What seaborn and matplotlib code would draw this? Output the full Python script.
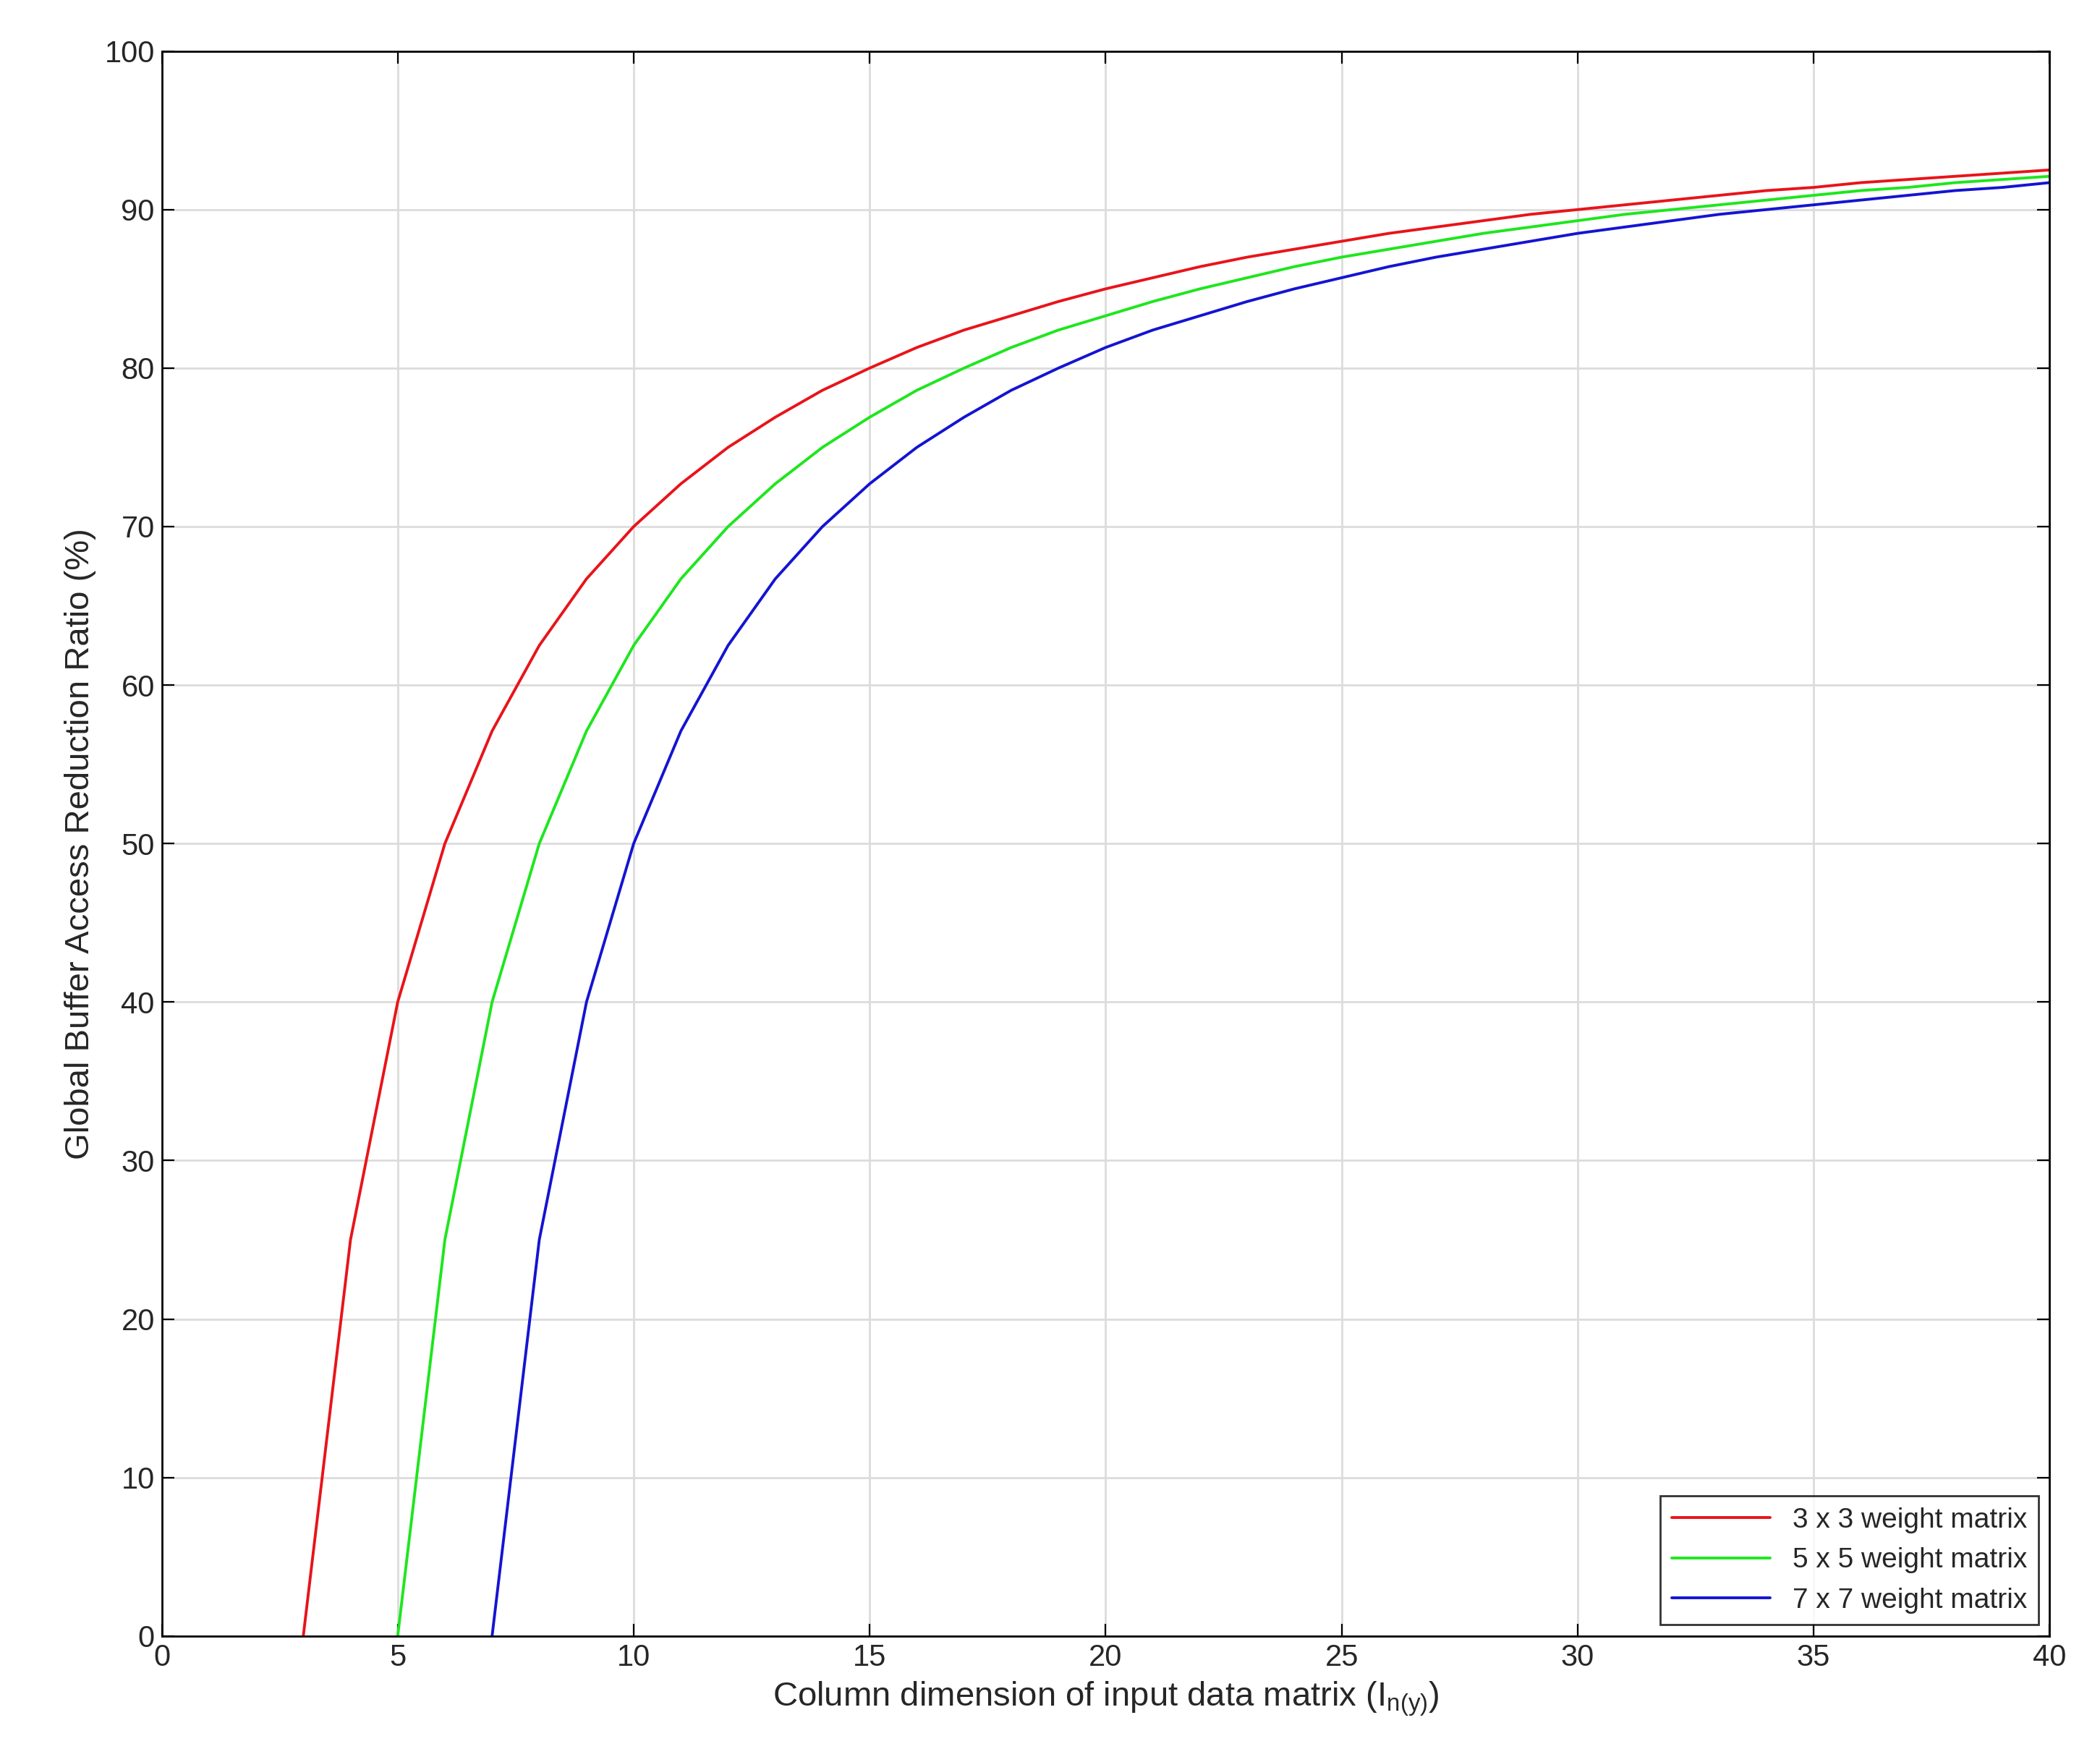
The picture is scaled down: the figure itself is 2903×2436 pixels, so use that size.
import numpy as np
import pandas as pd
import matplotlib
matplotlib.use("Agg")
import matplotlib.pyplot as plt
import seaborn as sns

# Reduction ratio (%); each curve starts at its kernel size
ratio = [0, 25, 40, 50, 57.1, 62.5, 66.7, 70, 72.7, 75, 76.9, 78.6, 80, 81.3,
         82.4, 83.3, 84.2, 85, 85.7, 86.4, 87, 87.5, 88, 88.5, 88.9, 89.3, 89.7,
         90, 90.3, 90.6, 90.9, 91.2, 91.4, 91.7, 91.9, 92.1, 92.3, 92.5]
red_x = list(range(3, 41))
red_y = ratio[:38]
green_x = list(range(5, 41))
green_y = ratio[:36]
blue_x = list(range(7, 41))
blue_y = ratio[:34]

labels = ["3 x 3 weight matrix", "5 x 5 weight matrix", "7 x 7 weight matrix"]
colors = ["#e8141a", "#1ee61e", "#1414d2"]

frames = []
for lab, xs, ys in zip(labels, [red_x, green_x, blue_x], [red_y, green_y, blue_y]):
    frames.append(pd.DataFrame({"n": xs, "r": ys, "w": lab}))
df = pd.concat(frames)

sns.set_style("whitegrid")
plt.rcParams['font.family'] = ['Liberation Sans', 'DejaVu Sans']

fig = plt.figure(figsize=(14.515, 12.18), dpi=200)
ax = fig.add_axes([0.077, 0.0715, 0.899, 0.8995])
sns.lineplot(data=df, x="n", y="r", hue="w", palette=colors, ax=ax, linewidth=1.4)

ax.set_xlim(0, 40)
ax.set_ylim(0, 100)
ax.set_xticks(range(0, 41, 5))
ax.set_yticks(range(0, 101, 10))
ax.grid(True, color="#dcdcdc", linewidth=1)
for s in ax.spines.values():
    s.set_color("black")
    s.set_linewidth(1)
ax.tick_params(axis="both", labelsize=15, direction="in", length=6, color="black",
               bottom=True, left=True, top=True, right=True, colors="#262626")
ax.tick_params(axis="both", colors="black", labelcolor="#262626")
ax.set_xlabel(r"Column dimension of input data matrix (I$_{\mathregular{n(y)}}$)",
              fontsize=17, color="#262626")
ax.set_ylabel("Global Buffer Access Reduction Ratio (%)", fontsize=17, color="#262626")

leg = ax.legend(loc="lower right", fontsize=14, frameon=True, fancybox=False,
                borderaxespad=0.4, handlelength=3.5)
leg.get_frame().set_edgecolor("black")
leg.get_frame().set_linewidth(1)

fig.savefig("out.png", dpi=200, facecolor="white")
